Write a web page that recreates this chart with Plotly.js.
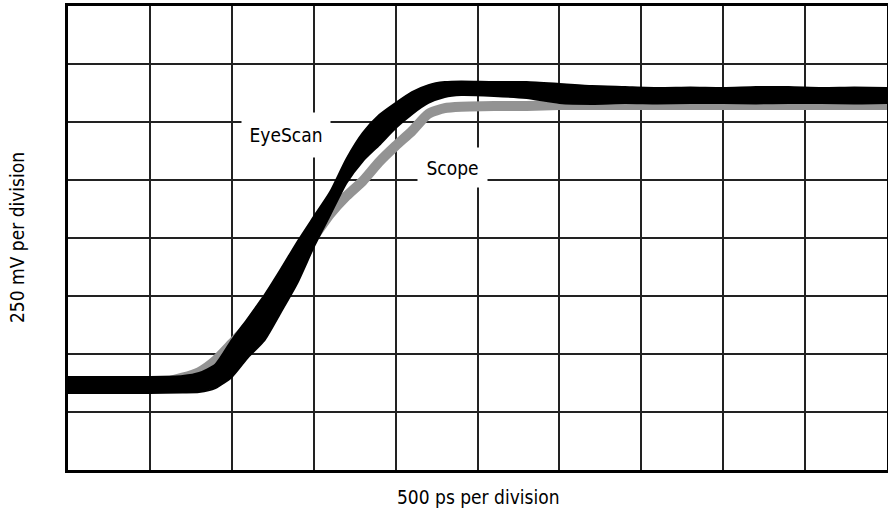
<!DOCTYPE html>
<html>
<head>
<meta charset="utf-8">
<script src="https://cdn.plot.ly/plotly-3.0.1.min.js"></script>
<style>html,body{margin:0;padding:0;background:#fff;}#chart{width:888px;height:519px;}</style>
</head>
<body>
<div id="chart"></div>
<script>
// time axis (ps), 500 ps per division
const timePs = [0, 500, 700, 800, 900, 1000, 1100, 1200, 1300, 1400, 1500, 1600, 1700, 1800, 1900, 2000, 2100, 2200, 2300, 2400, 2600, 2800, 3000, 3200, 3400, 3600, 3800, 4000, 4200, 4400, 4600, 4800, 5000];
// EyeScan envelope (mV), 250 mV per division
const eyeScanUpper = [401, 401, 405, 418, 455, 560, 655, 754, 866, 983, 1091, 1198, 1341, 1453, 1530, 1582, 1629, 1659, 1672, 1675, 1672, 1672, 1664, 1655, 1651, 1647, 1649, 1647, 1651, 1651, 1647, 1649, 1647];
const eyeScanLower = [332, 332, 334, 336, 353, 401, 487, 560, 681, 806, 961, 1099, 1237, 1332, 1401, 1474, 1534, 1582, 1608, 1616, 1612, 1603, 1582, 1578, 1582, 1580, 1582, 1582, 1580, 1582, 1582, 1580, 1582];
// Scope trace (mV)
const scopeMv = [366, 366, 398, 422, 472, 545, 621, 724, 810, 901, 1004, 1103, 1181, 1246, 1328, 1397, 1461, 1535, 1560, 1566, 1569, 1569, 1573, 1573, 1573, 1573, 1573, 1573, 1573, 1573, 1573, 1573, 1573];
const labelNames = ["EyeScan", "Scope"];
const labelTime = [1331, 2347];
const labelMv = [1444, 1304];
const xTitle = "500 ps per division";
const yTitle = "250 mV per division";

const FONT = '"DejaVu Sans Condensed", "Liberation Sans Narrow", "Liberation Sans", sans-serif';

const traces = [
  {x: timePs, y: scopeMv, type: 'scatter', mode: 'lines', name: 'Scope',
   line: {color: '#939393', width: 10, shape: 'spline', smoothing: 0.6}, hoverinfo: 'skip'},
  {x: timePs, y: eyeScanLower, type: 'scatter', mode: 'lines', name: 'EyeScan low',
   line: {color: '#000', width: 2, shape: 'spline', smoothing: 0.6}, hoverinfo: 'skip'},
  {x: timePs, y: eyeScanUpper, type: 'scatter', mode: 'lines', name: 'EyeScan',
   fill: 'tonexty', fillcolor: '#000', line: {color: '#000', width: 2, shape: 'spline', smoothing: 0.6}, hoverinfo: 'skip'}
];

const axisCommon = {
  showticklabels: false, ticks: '', zeroline: false,
  showgrid: true, gridcolor: '#222', gridwidth: 2,
  showline: true, linecolor: '#000', linewidth: 3, mirror: true,
  fixedrange: true
};

const layout = {
  width: 888, height: 519,
  margin: {l: 68, r: 1, t: 6, b: 49},
  paper_bgcolor: '#fff', plot_bgcolor: '#fff',
  showlegend: false,
  font: {family: FONT, color: '#000', size: 16},
  xaxis: Object.assign({}, axisCommon, {range: [0, 5000], dtick: 500, tick0: 0}),
  yaxis: Object.assign({}, axisCommon, {range: [0, 2000], dtick: 250, tick0: 0}),
  annotations: [
    {x: labelTime[0], y: labelMv[0], xref: 'x', yref: 'y', text: labelNames[0], showarrow: false,
     bgcolor: '#fff', width: 88, height: 44, borderpad: 0, font: {family: FONT, size: 19, color: '#000'}},
    {x: labelTime[1], y: labelMv[1], xref: 'x', yref: 'y', text: labelNames[1], showarrow: false,
     bgcolor: '#fff', width: 69, height: 39, borderpad: 0, font: {family: FONT, size: 19, color: '#000'}},
    {x: 0.5, y: 0, xref: 'paper', yref: 'paper', yanchor: 'middle', yshift: -27, text: xTitle, showarrow: false,
     font: {family: FONT, size: 19, color: '#000'}},
    {x: 0, y: 0.5, xref: 'paper', yref: 'paper', xanchor: 'center', xshift: -51, text: yTitle, textangle: -90, showarrow: false,
     font: {family: FONT, size: 19, color: '#000'}}
  ]
};

Plotly.newPlot('chart', traces, layout, {displayModeBar: false, staticPlot: true});
</script>
</body>
</html>
